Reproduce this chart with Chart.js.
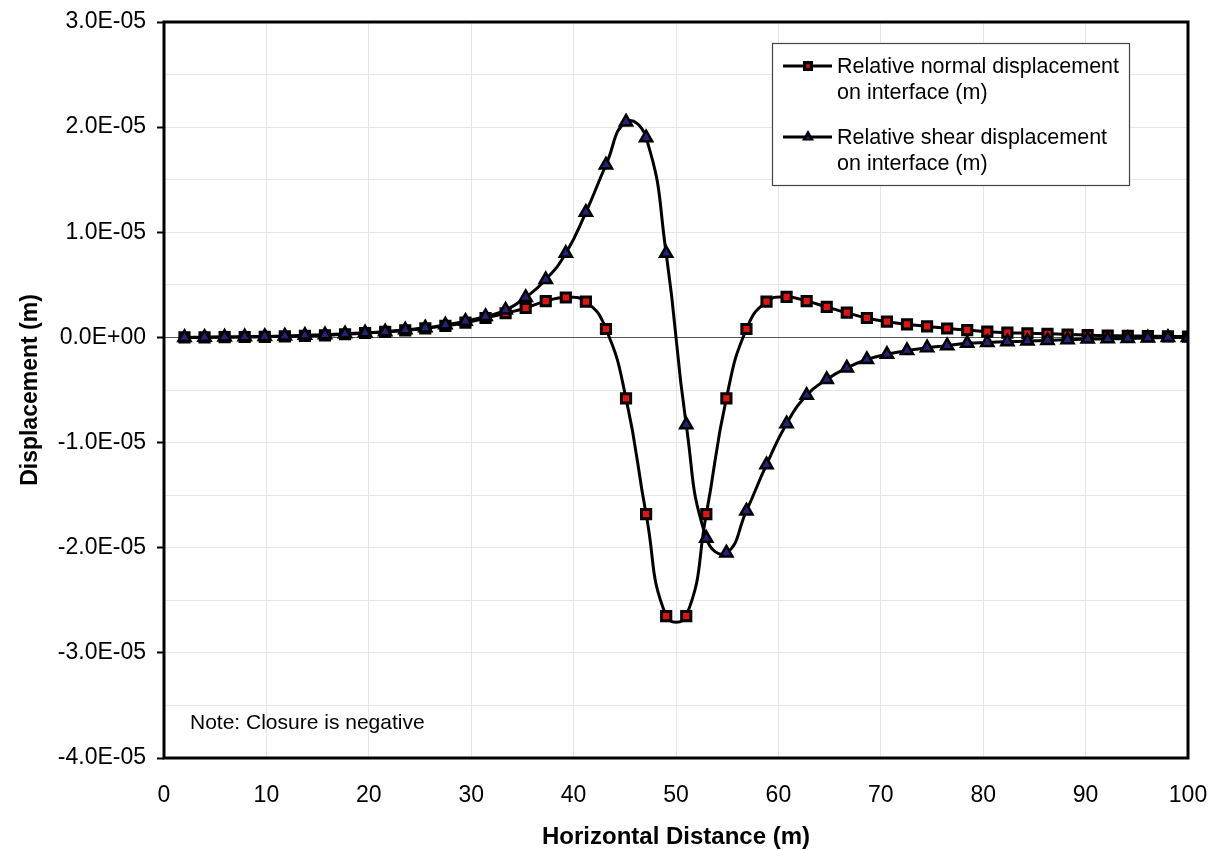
<!DOCTYPE html>
<html><head><meta charset="utf-8">
<script src="https://cdn.jsdelivr.net/npm/chart.js@4/dist/chart.umd.min.js"></script>
<style>html,body{margin:0;padding:0;background:#fff}#wrap{width:1221px;height:850px;position:relative}</style>
</head><body><div id="wrap"><canvas id="c" width="1221" height="850"></canvas></div>
<script>
// Horizontal distance (m)
const distance = [2.00, 3.96, 5.92, 7.88, 9.84, 11.80, 13.76, 15.72, 17.68, 19.64,
  21.60, 23.56, 25.52, 27.48, 29.44, 31.40, 33.36, 35.32, 37.28, 39.24,
  41.20, 43.16, 45.12, 47.08, 49.04, 51.00, 52.96, 54.92, 56.88, 58.84,
  60.80, 62.76, 64.72, 66.68, 68.64, 70.60, 72.56, 74.52, 76.48, 78.44,
  80.40, 82.36, 84.32, 86.28, 88.24, 90.20, 92.16, 94.12, 96.08, 98.04, 100.00];
// Relative normal displacement on interface (m)
const normalDisp = [0.0e-6, 0.0e-6, 0.02e-6, 0.04e-6, 0.06e-6, 0.1e-6, 0.14e-6, 0.2e-6, 0.3e-6, 0.42e-6,
  0.52e-6, 0.68e-6, 0.86e-6, 1.1e-6, 1.4e-6, 1.85e-6, 2.3e-6, 2.8e-6, 3.45e-6, 3.8e-6,
  3.4e-6, 0.8e-6, -5.8e-6, -16.8e-6, -26.5e-6, -26.5e-6, -16.8e-6, -5.8e-6, 0.8e-6, 3.4e-6,
  3.85e-6, 3.45e-6, 2.9e-6, 2.35e-6, 1.85e-6, 1.5e-6, 1.25e-6, 1.05e-6, 0.85e-6, 0.7e-6,
  0.55e-6, 0.45e-6, 0.4e-6, 0.35e-6, 0.28e-6, 0.22e-6, 0.17e-6, 0.14e-6, 0.12e-6, 0.1e-6, 0.08e-6];
// Relative shear displacement on interface (m)
const shearDisp = [0.0e-6, 0.02e-6, 0.04e-6, 0.06e-6, 0.1e-6, 0.14e-6, 0.2e-6, 0.26e-6, 0.34e-6, 0.44e-6,
  0.54e-6, 0.72e-6, 0.92e-6, 1.2e-6, 1.55e-6, 2.0e-6, 2.6e-6, 3.8e-6, 5.5e-6, 8.0e-6,
  11.9e-6, 16.4e-6, 20.5e-6, 19.0e-6, 8.0e-6, -8.3e-6, -19.1e-6, -20.5e-6, -16.5e-6, -12.1e-6,
  -8.2e-6, -5.5e-6, -4.0e-6, -2.9e-6, -2.1e-6, -1.6e-6, -1.25e-6, -0.98e-6, -0.78e-6, -0.56e-6,
  -0.48e-6, -0.41e-6, -0.35e-6, -0.29e-6, -0.22e-6, -0.16e-6, -0.13e-6, -0.1e-6, -0.05e-6, 0.0e-6, 0.0e-6];

const seriesLabels = [["Relative normal displacement", "on interface (m)"],
                      ["Relative shear displacement", "on interface (m)"]];
const xTitle = "Horizontal Distance (m)";
const yTitle = "Displacement (m)";
const noteText = "Note: Closure is negative";
const yMin = -4.0e-5, yMax = 3.0e-5, yMajor = 1.0e-5, yMinor = 5.0e-6;
const xMin = 0, xMax = 100, xStep = 10;

const FONT = '"Liberation Sans", Arial, sans-serif';
const isMajor = v => Math.abs(v / yMajor - Math.round(v / yMajor)) < 1e-6;
function fmtExp(v) {
  if (Math.abs(v) < 1e-15) v = 0;
  const parts = v.toExponential(1).split('e');
  const e = parseInt(parts[1], 10);
  return parts[0] + 'E' + (e < 0 ? '-' : '+') + String(Math.abs(e)).padStart(2, '0');
}
const toPts = ys => distance.map((x, i) => ({x: x, y: ys[i]}));

const NORMAL_FILL = '#e3140f', SHEAR_FILL = '#23237a';

function drawSquare(ctx, x, y, s, fill) {
  ctx.fillStyle = '#000';
  ctx.fillRect(x - s / 2, y - s / 2, s, s);
  ctx.fillStyle = fill;
  ctx.fillRect(x - s / 6, y - s / 6, s / 3, s / 3);
}
function drawTri(ctx, x, y, r, fill) {
  ctx.beginPath();
  ctx.moveTo(x, y - r);
  ctx.lineTo(x + r * 0.866, y + r * 0.5);
  ctx.lineTo(x - r * 0.866, y + r * 0.5);
  ctx.closePath();
  ctx.fillStyle = '#000'; ctx.fill();
  ctx.beginPath(); ctx.arc(x, y + 1, 1.5, 0, Math.PI * 2); ctx.fillStyle = fill; ctx.fill();
}

const decor = {
  id: 'decor',
  afterDraw(chart) {
    const {ctx, chartArea: a} = chart;
    ctx.save();
    ctx.strokeStyle = '#000'; ctx.lineWidth = 3;
    ctx.strokeRect(a.left, a.top, a.right - a.left, a.bottom - a.top);
    // note
    ctx.font = '21px ' + FONT;
    ctx.fillStyle = '#000'; ctx.textBaseline = 'middle'; ctx.textAlign = 'left';
    ctx.fillText(noteText, 190, 723);
    // legend
    const bx = 772, by = 43, bw = 357, bh = 142;
    ctx.fillStyle = '#fff'; ctx.fillRect(bx, by, bw, bh);
    ctx.strokeStyle = '#444'; ctx.lineWidth = 1.2;
    ctx.strokeRect(bx + 0.5, by + 0.5, bw, bh);
    const rows = [66, 137];
    ctx.font = '21.5px ' + FONT;
    seriesLabels.forEach((lab, k) => {
      const y = rows[k];
      ctx.strokeStyle = '#000'; ctx.lineWidth = 3;
      ctx.beginPath(); ctx.moveTo(783, y); ctx.lineTo(832, y); ctx.stroke();
      if (k === 0) drawSquare(ctx, 808, y, 10, NORMAL_FILL); else drawTri(ctx, 808, y, 7, SHEAR_FILL);
      ctx.fillStyle = '#000'; ctx.textBaseline = 'middle';
      lab.forEach((t, j) => ctx.fillText(t, 837, y + 1 + j * 26));
    });
    ctx.restore();
  }
};

new Chart(document.getElementById('c'), {
  type: 'line',
  data: {
    datasets: [
      {
        label: seriesLabels[0].join(' '), data: toPts(normalDisp), order: 1,
        borderColor: '#000', borderWidth: 3, tension: 0.5,
        pointStyle: 'rect', pointRadius: 6.5, pointBorderWidth: 3,
        pointBackgroundColor: NORMAL_FILL, pointBorderColor: '#000'
      },
      {
        label: seriesLabels[1].join(' '), data: toPts(shearDisp), order: 0,
        borderColor: '#000', borderWidth: 3, tension: 0.5,
        pointStyle: 'triangle', pointRadius: 7, pointBorderWidth: 2.5,
        pointBackgroundColor: SHEAR_FILL, pointBorderColor: '#000'
      }
    ]
  },
  options: {
    responsive: false, animation: false, devicePixelRatio: 1,
    layout: {padding: {left: 0, right: 33, top: 22, bottom: 0}},
    plugins: {legend: {display: false}, tooltip: {enabled: false}},
    scales: {
      x: {
        type: 'linear', min: xMin, max: xMax,
        ticks: {stepSize: xStep, color: '#000', padding: 0, font: {family: FONT, size: 23}, maxRotation: 0},
        grid: {color: '#e6e6e6', lineWidth: 1, drawTicks: true, tickLength: 24, tickColor: 'rgba(0,0,0,0)'},
        border: {display: false},
        title: {display: true, text: xTitle, color: '#000', font: {family: FONT, size: 24, weight: 'bold'}, padding: {top: 0, bottom: -2}},
        afterFit: s => { s.height = 92; }
      },
      y: {
        type: 'linear', min: yMin, max: yMax,
        ticks: {stepSize: yMinor, maxTicksLimit: 100, color: '#000', padding: 11,
          font: {family: FONT, size: 23, lineHeight: 0.8}, callback: v => isMajor(v) ? fmtExp(v) : ''},
        grid: {
          color: c => (c.tick && Math.abs(c.tick.value) < 1e-12) ? '#555' : '#e6e6e6',
          lineWidth: 1, tickLength: 7, tickWidth: 2,
          tickColor: c => (c.tick && isMajor(c.tick.value)) ? '#000' : 'rgba(0,0,0,0)'
        },
        border: {display: false},
        title: {display: true, text: yTitle, color: '#000', font: {family: FONT, size: 23, weight: 'bold'}, padding: {top: 17, bottom: 0}},
        afterFit: s => { s.width = 164; }
      }
    }
  },
  plugins: [decor]
});
</script></body></html>
